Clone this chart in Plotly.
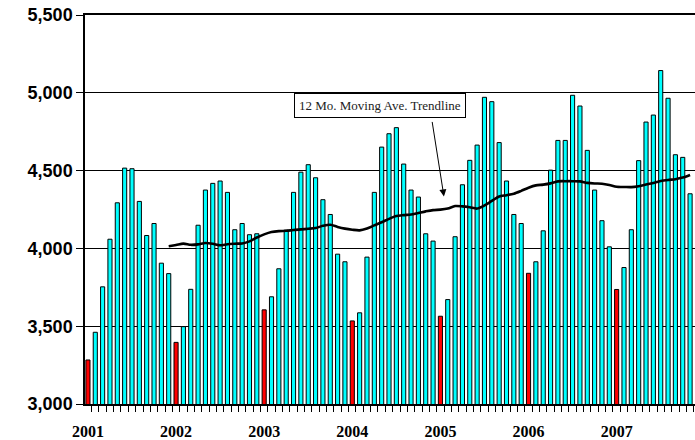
import plotly.graph_objects as go

# Monthly values, Jan 2001 .. Nov 2007
values_2001 = [3283, 3461, 3753, 4059, 4293, 4516, 4512, 4302, 4083, 4160, 3905, 3838]
values_2002 = [3396, 3497, 3737, 4149, 4375, 4418, 4433, 4360, 4120, 4160, 4088, 4094]
values_2003 = [3605, 3689, 3869, 4117, 4360, 4490, 4538, 4454, 4313, 4218, 3963, 3914]
values_2004 = [3534, 3586, 3944, 4360, 4651, 4737, 4776, 4542, 4375, 4330, 4094, 4047]
values_2005 = [3564, 3671, 4075, 4409, 4566, 4664, 4971, 4943, 4680, 4433, 4218, 4160]
values_2006 = [3840, 3914, 4113, 4503, 4694, 4694, 4984, 4915, 4630, 4375, 4178, 4010]
values_2007 = [3736, 3877, 4120, 4564, 4812, 4857, 5143, 4965, 4602, 4585, 4351]

# 12 month moving average line, Dec 2001 .. Nov 2007
ma_values = [
    4014, 4022, 4031, 4023, 4026, 4035, 4030, 4020, 4027, 4030, 4032, 4045,
    4070, 4090, 4105, 4111, 4113, 4118, 4122, 4126, 4131, 4145, 4152, 4138,
    4127, 4120, 4116, 4128, 4148, 4168, 4190, 4208, 4214, 4218, 4228, 4238,
    4246, 4249, 4256, 4272, 4270, 4264, 4256, 4276, 4305, 4334, 4342, 4352,
    4370, 4390, 4405, 4410, 4418, 4431, 4432, 4432, 4431, 4421, 4417, 4416,
    4408, 4396, 4395, 4394, 4400, 4410, 4421, 4433, 4440, 4445, 4455, 4472,
]
ma_start = 11

year_labels = ["2001", "2002", "2003", "2004", "2005", "2006", "2007"]

sales = values_2001 + values_2002 + values_2003 + values_2004 + values_2005 + values_2006 + values_2007
x_idx = list(range(len(sales)))
colors = ["#FF0000" if i % 12 == 0 else "#00FFFF" for i in x_idx]

fig = go.Figure()
fig.add_trace(go.Bar(
    x=x_idx, y=sales, width=0.56,
    marker=dict(color=colors, line=dict(color="black", width=1)),
    showlegend=False, hoverinfo="skip",
))
fig.add_trace(go.Scatter(
    x=list(range(ma_start, ma_start + len(ma_values))), y=ma_values,
    mode="lines", line=dict(color="black", width=2.6, shape="spline", smoothing=0.8),
    showlegend=False, hoverinfo="skip",
))

fig.add_annotation(
    x=39.77, y=4916, xref="x", yref="y",
    text="12 Mo. Moving Ave. Trendline", showarrow=False,
    font=dict(family="Liberation Serif", size=13, color="#222222"),
    bgcolor="white", bordercolor="black", borderwidth=1, borderpad=4,
)
fig.add_annotation(
    x=48.48, y=4334, xref="x", yref="y", text="",
    showarrow=True, ax=-12, ay=-76, axref="pixel", ayref="pixel",
    arrowhead=2, arrowsize=1.4, arrowwidth=1, arrowcolor="black",
)

fig.update_layout(
    width=695, height=440,
    margin=dict(l=85, r=0, t=15, b=36),
    paper_bgcolor="white", plot_bgcolor="white",
    bargap=0.4,
    xaxis=dict(
        range=[-0.4, 82.67],
        automargin=False,
        tickmode="array",
        tickvals=[12 * k for k in range(len(year_labels))],
        ticktext=year_labels,
        ticks="",
        ticklabelstandoff=12,
        ticklabeloverflow="allow",
        tickfont=dict(family="Liberation Serif", size=16, color="black", weight="bold"),
        showline=True, linecolor="black", linewidth=1.5, mirror=True,
        showgrid=False, zeroline=False,
        minor=dict(tickmode="linear", tick0=-0.5, dtick=1, ticks="outside",
                   ticklen=6, tickcolor="black", tickwidth=1, showgrid=False),
    ),
    yaxis=dict(
        range=[3000, 5500],
        automargin=False,
        tickmode="array",
        tickvals=[3000, 3500, 4000, 4500, 5000, 5500],
        tickformat=",",
        ticklabeloverflow="allow",
        ticks="outside", ticklen=7, tickcolor="black", tickwidth=1,
        tickfont=dict(family="Liberation Sans", size=18, color="black", weight="bold"),
        showline=True, linecolor="black", linewidth=1.5,
        showgrid=True, gridcolor="black", gridwidth=1,
        zeroline=False,
    ),
)

fig.write_html(
    "out.html",
    config={"displayModeBar": False},
    post_script="document.body.style.margin='0';document.body.style.overflow='hidden';",
)
